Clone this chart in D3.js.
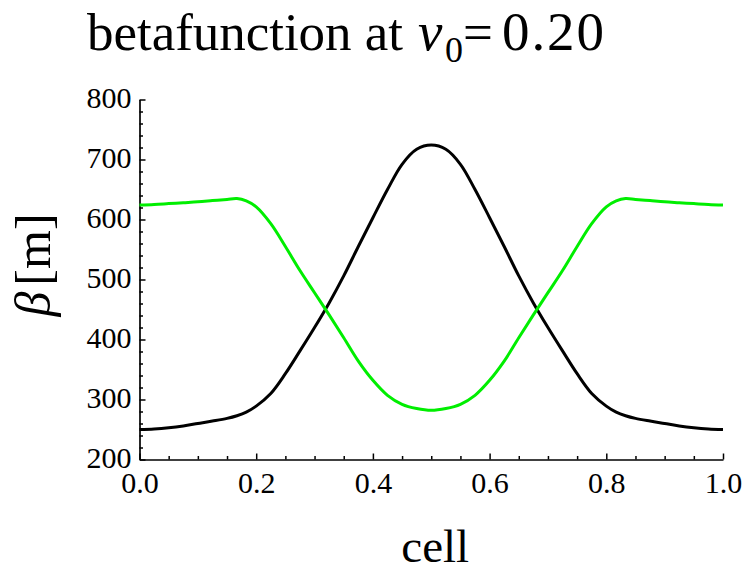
<!DOCTYPE html>
<html>
<head>
<meta charset="utf-8">
<script src="https://cdn.jsdelivr.net/npm/d3@7"></script>
<style>
  html, body { margin: 0; padding: 0; background: #fff; }
  svg { display: block; }
  text { font-family: "Liberation Serif", "Times New Roman", serif; fill: #000; }
</style>
</head>
<body>
<svg id="chart" width="747" height="571"></svg>
<script>
// ---- data ----
const cellPos = [0, 0.025, 0.05, 0.075, 0.1, 0.125, 0.15, 0.167, 0.183, 0.2, 0.225, 0.25, 0.275, 0.3, 0.325, 0.35, 0.375, 0.4, 0.425, 0.45, 0.475, 0.5,
                 0.525, 0.55, 0.575, 0.6, 0.625, 0.65, 0.675, 0.7, 0.725, 0.75, 0.775, 0.8, 0.817, 0.833, 0.85, 0.875, 0.9, 0.925, 0.95, 0.975, 1];
const betaX = [250, 251, 253, 256, 260, 264, 268.5, 273, 279, 289, 310, 343, 381, 420, 461, 506, 555, 603, 650, 692, 717, 724,
               717, 692, 650, 603, 555, 506, 461, 420, 381, 343, 310, 289, 279, 273, 268.5, 264, 260, 256, 253, 251, 250];
const betaY = [624, 625, 626.5, 628, 629.5, 631.5, 633.5, 635, 631, 621, 593, 555, 515, 478, 441, 403, 364, 332, 307, 292, 285, 282,
               285, 292, 307, 332, 364, 403, 441, 478, 515, 555, 593, 621, 631, 635, 633.5, 631.5, 629.5, 628, 626.5, 625, 624];
const xTicks = [0, 0.2, 0.4, 0.6, 0.8, 1.0];
const yTicks = [200, 300, 400, 500, 600, 700, 800];
const xDomain = [0, 1];
const yDomain = [200, 800];
const seriesColors = ["#000000", "#00ee00"];

// ---- layout ----
const svg = d3.select("#chart");
const mLeft = 139.5, mRight = 723, mTop = 99.5, mBottom = 459.5;

const x = d3.scaleLinear().domain(xDomain).range([mLeft, mRight]);
const y = d3.scaleLinear().domain(yDomain).range([mBottom, mTop]);

// minor ticks
const xMinor = x.ticks(20).filter(v => !xTicks.some(t => Math.abs(t - v) < 1e-9));
const yMinor = y.ticks(30).filter(v => !yTicks.some(t => Math.abs(t - v) < 1e-9));

const gxMinor = svg.append("g").attr("transform", `translate(0,${mBottom})`)
  .call(d3.axisBottom(x).tickValues(xMinor).tickSize(-3.5).tickFormat(""));
const gyMinor = svg.append("g").attr("transform", `translate(${mLeft},0)`)
  .call(d3.axisLeft(y).tickValues(yMinor).tickSize(-3.5).tickFormat(""));
[gxMinor, gyMinor].forEach(g => {
  g.select(".domain").remove();
  g.selectAll("line").attr("stroke", "#000").attr("stroke-width", 1.5);
});

const gx = svg.append("g").attr("transform", `translate(0,${mBottom})`)
  .call(d3.axisBottom(x).tickValues(xTicks).tickSizeInner(-6).tickSizeOuter(0)
        .tickPadding(12).tickFormat(d3.format(".1f")));
const gy = svg.append("g").attr("transform", `translate(${mLeft},0)`)
  .call(d3.axisLeft(y).tickValues(yTicks).tickSizeInner(-6).tickSizeOuter(0)
        .tickPadding(8).tickFormat(d3.format("d")));
[gx, gy].forEach(g => {
  g.select(".domain").attr("stroke", "#000").attr("stroke-width", 1.7);
  g.selectAll(".tick line").attr("stroke", "#000").attr("stroke-width", 1.5);
  g.selectAll(".tick text").attr("font-family", "'Liberation Serif', 'Times New Roman', serif")
    .attr("font-size", 30).attr("fill", "#000");
});
gy.selectAll(".tick text").attr("dy", "0.28em");
gx.selectAll(".tick text").attr("dy", "0.72em");

// ---- curves ----
const line = d3.line().curve(d3.curveCatmullRom.alpha(0.5)).x(d => x(d[0])).y(d => y(d[1]));
[betaX, betaY].forEach((vals, i) => {
  svg.append("path")
    .datum(cellPos.map((c, k) => [c, vals[k]]))
    .attr("fill", "none")
    .attr("stroke", seriesColors[i])
    .attr("stroke-width", 3)
    .attr("stroke-linejoin", "round")
    .attr("d", line);
});

// ---- title ----
svg.append("text").attr("x", 87).attr("y", 50).attr("font-size", 53)
  .attr("textLength", 316).text("betafunction at");
svg.append("text").attr("x", 418).attr("y", 50).attr("font-size", 55)
  .attr("font-style", "italic").text("ν");
svg.append("text").attr("x", 445).attr("y", 62).attr("font-size", 36).text("0");
svg.append("text").attr("x", 463).attr("y", 50).attr("font-size", 53).text("=");
svg.append("text").attr("x", 502).attr("y", 50).attr("font-size", 55)
  .attr("textLength", 102).text("0.20");

// ---- axis labels ----
svg.append("text").attr("x", (mLeft + mRight) / 2 + 4).attr("y", 562)
  .attr("text-anchor", "middle").attr("font-size", 47).text("cell");

const yl = svg.append("text")
  .attr("transform", `translate(50,265) rotate(-90)`)
  .attr("text-anchor", "middle").attr("font-size", 50);
yl.append("tspan").attr("font-style", "italic").text("β");
yl.append("tspan").attr("dx", 6).text("[m]");
</script>
</body>
</html>
